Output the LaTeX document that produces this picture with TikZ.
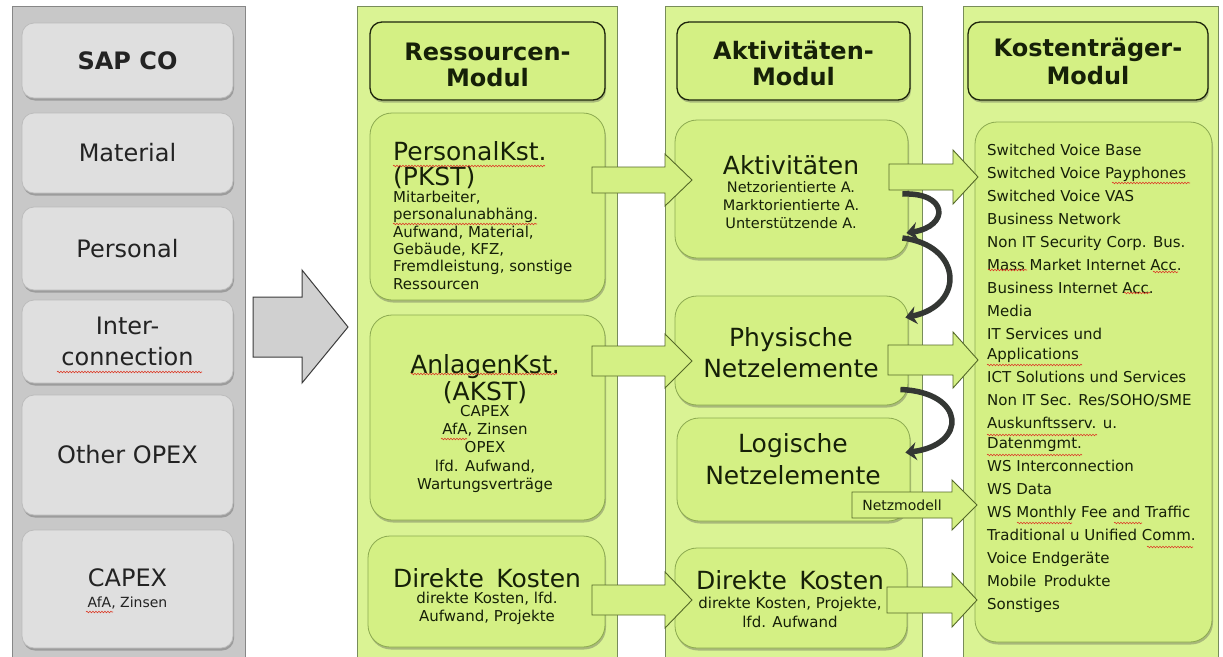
\documentclass[tikz,border=0pt]{standalone}
\usepackage{fontspec}
\setmainfont{DejaVu Sans}
\usetikzlibrary{arrows.meta,shadows,decorations.pathmorphing}
\definecolor{panelgrey}{RGB}{200,200,200}
\definecolor{panelline}{RGB}{135,135,135}
\definecolor{boxgrey}{RGB}{223,223,223}
\definecolor{boxgreyline}{RGB}{188,188,188}
\definecolor{arrgrey}{RGB}{208,208,208}
\definecolor{arrgreyline}{RGB}{60,60,60}
\definecolor{colgreen}{RGB}{218,243,148}
\definecolor{colline}{RGB}{120,140,90}
\definecolor{boxgreen}{RGB}{212,240,132}
\definecolor{boxline}{RGB}{140,170,80}
\definecolor{headline}{RGB}{30,38,12}
\definecolor{arrline}{RGB}{85,105,40}
\definecolor{txtgreen}{RGB}{22,32,8}
\definecolor{txtgrey}{RGB}{35,35,35}
\definecolor{curvecol}{RGB}{52,55,52}
\definecolor{squig}{RGB}{220,60,40}
\newcommand\myfs[2]{\fontsize{#1}{#2}\selectfont}
\newcommand\blockarrow[6]{%
  \draw[garrow] (#1,#4-#5) -- (#2,#4-#5) -- (#2,#4-#6) -- (#3,#4) -- (#2,#4+#6) -- (#2,#4+#5) -- (#1,#4+#5) -- cycle;}
\newcommand\squiggle[3]{\draw[squigline] (#1,#3) -- (#2,#3);}

\begin{document}
\begin{tikzpicture}[x=1pt,y=-1pt,
  column/.style={fill=colgreen, draw=colline, line width=0.8pt},
  shad/.style={drop shadow={shadow xshift=1pt, shadow yshift=-2.5pt, opacity=0.35, fill=black!70}},
  gbox/.style={draw=boxgreyline, fill=boxgrey, rounded corners=12pt, line width=0.8pt, shad, text=txtgrey, align=center, inner sep=0pt},
  hbox/.style={draw=headline, fill=boxgreen, rounded corners=12pt, line width=1.3pt, shad},
  cbox/.style={draw=boxline, fill=boxgreen, rounded corners=22pt, line width=0.8pt, shad},
  gtxt/.style={text=txtgreen, inner sep=0pt, align=center},
  ltxt/.style={text=txtgreen, inner sep=0pt, align=left},
  greytxt/.style={text=txtgrey, inner sep=0pt, align=center},
  garrow/.style={fill=boxgreen, draw=arrline, line width=0.9pt, line join=miter},
  curved/.style={draw=curvecol, line width=5.5pt, -{Stealth[length=11pt,width=18pt]}},
  squigline/.style={draw=squig, line width=0.6pt, decorate, decoration={snake, segment length=3pt, amplitude=0.8pt}},
]
\useasboundingbox (0,0) rectangle (1223,656);
\fill[white] (0,0) rectangle (1223,656);

% panels and columns
\draw[fill=panelgrey, draw=panelline, line width=1pt] (12,6) rectangle (245,670);
\draw[column] (357,6) rectangle (617,670);
\draw[column] (665,6) rectangle (922,670);
\draw[column] (963,6) rectangle (1218,670);

% grey boxes
\node[gbox, minimum width=211pt, minimum height=75pt, font=\bfseries\myfs{24}{28}] (sap) at (127.5,60.5) {SAP CO};
\node[gbox, minimum width=211pt, minimum height=80pt, font=\myfs{24}{28}] (mat) at (127.5,153) {Material};
\node[gbox, minimum width=211pt, minimum height=83pt, font=\myfs{24}{28}] (pers) at (127.5,248.5) {Personal};
\node[gbox, minimum width=211pt, minimum height=83pt, font=\myfs{24}{31}] (inter) at (127.5,341.5) {Inter-\\connection};
\node[gbox, minimum width=211pt, minimum height=120pt, font=\myfs{24}{28}] (opex) at (127.5,455) {Other OPEX};
\node[gbox, minimum width=211pt, minimum height=118pt] (capex) at (127.5,589) {};
\node[greytxt, font=\myfs{24}{28}] (capexT) at (127.5,578) {CAPEX};
\node[greytxt, font=\myfs{14}{16}] (capexS) at (127.5,603) {AfA, Zinsen};

% big grey arrow
\draw[fill=arrgrey, draw=arrgreyline, line width=1pt, line join=miter]
  (253,297) -- (302,297) -- (302,270) -- (348,327) -- (302,383) -- (302,357) -- (253,357) -- cycle;

% header boxes
\node[hbox, minimum width=235pt, minimum height=78pt] (h1) at (487.5,61) {};
\node[hbox, minimum width=233pt, minimum height=78pt] (h2) at (793.5,61) {};
\node[hbox, minimum width=240pt, minimum height=78pt] (h3) at (1088,61) {};

% content boxes
\node[cbox, minimum width=235pt, minimum height=187pt] (pk) at (487.5,206.5) {};
\node[cbox, minimum width=235pt, minimum height=205pt] (ak) at (487.5,417.5) {};
\node[cbox, minimum width=237pt, minimum height=111pt] (dk1) at (486.5,591.5) {};
\node[cbox, minimum width=233pt, minimum height=138pt] (akt) at (791.5,189) {};
\node[cbox, minimum width=233pt, minimum height=109pt] (phy) at (791.5,350.5) {};
\node[cbox, minimum width=233pt, minimum height=103pt] (log) at (793.5,469.5) {};
\node[cbox, minimum width=232pt, minimum height=100pt] (dk2) at (791,598) {};
\node[cbox, minimum width=237pt, minimum height=520pt] (kt) at (1093.5,382) {};

% block arrows
\blockarrow{592}{665}{692}{180}{13}{26}
\blockarrow{592}{665}{692}{361}{15}{27}
\blockarrow{592}{665}{692}{600}{15}{28}
\blockarrow{889}{953}{978}{177}{13}{27}
\blockarrow{888}{953}{978}{360}{15}{28}
\blockarrow{852}{952}{977}{505}{13}{25}
\blockarrow{887}{952}{977}{600}{13}{27}

% curved arrows
\draw[curved] ([shift={(-6,5)}]akt.east) .. controls (948,192) and (950,226) .. ([shift={(-2,44)}]akt.east);
\draw[curved] ([shift={(-6,49)}]akt.east) .. controls (962,245) and (966,305) .. ([shift={(-3,-33)}]phy.east);
\draw[curved] ([shift={(-8,39)}]phy.east) .. controls (966,392) and (968,445) .. ([shift={(-5,-17)}]log.east);

% header texts
\node[gtxt, font=\bfseries\myfs{24}{26}] (h1t) at (487.5,65) {Ressourcen-\\Modul};
\node[gtxt, font=\bfseries\myfs{24}{26}] (h2t) at (793.5,63) {Aktivitäten-\\Modul};
\node[gtxt, font=\bfseries\myfs{24}{28}] (h3t) at (1088,61) {Kostenträger-\\Modul};

% column 1 texts
\node[ltxt, anchor=north west, font=\myfs{25}{25.5}] (pkT) at (393,141) {PersonalKst.\\(PKST)};
\node[ltxt, anchor=north west, font=\myfs{15}{17.3}] (pkS) at (393,191) {Mitarbeiter,\\personalunabhäng.\\Aufwand, Material,\\Gebäude, KFZ,\\Fremdleistung, sonstige\\Ressourcen};
\node[gtxt, anchor=north, font=\myfs{25}{27}] (akT) at (485,354) {AnlagenKst.\\(AKST)};
\node[gtxt, anchor=north, font=\myfs{15}{18.3}] (akS) at (485,405) {CAPEX\\AfA, Zinsen\\OPEX\\lfd. Aufwand,\\Wartungsverträge};
\node[gtxt, anchor=north, font=\myfs{25}{27}] (dk1T) at (487,568) {Direkte\hskip0.5em Kosten};
\node[gtxt, anchor=north, font=\myfs{15}{18}] (dk1S) at (487,592) {direkte Kosten, lfd.\\Aufwand, Projekte};

% column 2 texts
\node[gtxt, anchor=north, font=\myfs{25}{27}] (aktT) at (791,155) {Aktivitäten};
\node[gtxt, anchor=north, font=\myfs{14.5}{18}] (aktS) at (791,181) {Netzorientierte A.\\Marktorientierte A.\\Unterstützende A.};
\node[gtxt, anchor=north, font=\myfs{25}{31}] (phyT) at (791,327) {Physische\\Netzelemente};
\node[gtxt, anchor=north, font=\myfs{25}{32}] (logT) at (793,433) {Logische\\Netzelemente};
\node[gtxt, anchor=north, font=\myfs{25}{27}] (dk2T) at (790,570) {Direkte\hskip0.5em Kosten};
\node[gtxt, anchor=north, font=\myfs{15}{19}] (dk2S) at (790,597) {direkte Kosten, Projekte,\\lfd. Aufwand};
\node[gtxt, font=\myfs{14}{16}] (netz) at (902,505) {Netzmodell};

% column 3 list
\node[ltxt, anchor=north west, font=\myfs{15}{23}] (ktS) at (987,144) {Switched Voice Base\\Switched Voice Payphones\\Switched Voice VAS\\Business Network\\Non IT Security Corp. Bus.\\Mass Market Internet Acc.\\Business Internet Acc.\\Media\\IT Services und\\[-3pt]Applications\\ICT Solutions und Services\\Non IT Sec. Res/SOHO/SME\\Auskunftsserv. u.\\[-3pt]Datenmgmt.\\WS Interconnection\\WS Data\\WS Monthly Fee and Traffic\\Traditional u Unified Comm.\\Voice Endgeräte\\Mobile\hskip0.5em Produkte\\Sonstiges};

% spell-check underlines
\squiggle{57}{202}{372}
\squiggle{86}{113}{612}
\squiggle{393}{545}{166}
\squiggle{393}{537}{224}
\squiggle{411}{557}{374}
\squiggle{441}{467}{439}
\squiggle{1112}{1190}{183}
\squiggle{988}{1027}{270}
\squiggle{1153}{1178}{272}
\squiggle{1124}{1150}{293}
\squiggle{987}{1082}{365}
\squiggle{987}{1097}{435}
\squiggle{987}{1082}{455}
\squiggle{1017}{1072}{523}
\squiggle{1114}{1142}{523}
\squiggle{1147}{1193}{547}
\end{tikzpicture}
\end{document}
